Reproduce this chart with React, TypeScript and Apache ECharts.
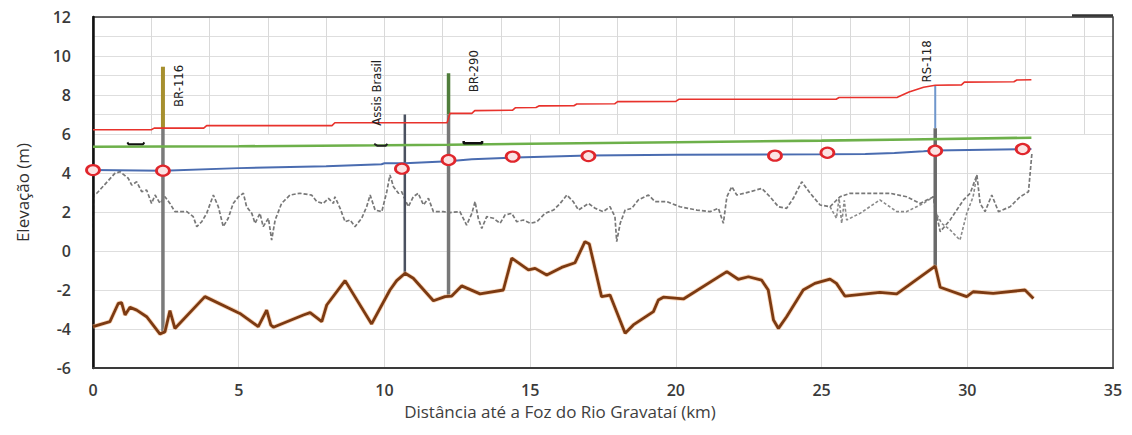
import React, { useEffect, useRef } from "react";
import * as echarts from "echarts";

// ---------- data (km, m) ----------
const xTicks = { min: 0, max: 35, step: 5 };
const yTicks = { min: -6, max: 12, step: 2 };

const redProfile: number[][] = [
  [0, 6.22], [2.0, 6.22], [2.1, 6.3], [3.8, 6.3], [3.9, 6.43], [8.2, 6.43], [8.3, 6.58],
  [12.15, 6.58], [12.25, 7.06], [13.0, 7.06], [13.1, 7.2], [14.4, 7.22], [14.5, 7.35],
  [15.2, 7.36], [15.3, 7.44], [16.5, 7.45], [16.6, 7.54], [17.9, 7.55], [18.0, 7.66],
  [20.0, 7.67], [20.1, 7.78], [25.5, 7.78], [25.6, 7.87], [27.6, 7.88], [28.0, 8.15],
  [28.5, 8.4], [28.9, 8.5], [29.8, 8.52], [29.9, 8.66], [31.6, 8.68], [31.7, 8.77], [32.2, 8.78],
];

const greenProfile: number[][] = [
  [0, 5.35], [5, 5.37], [10, 5.42], [12.2, 5.45], [15, 5.5], [20, 5.58], [25, 5.66], [28, 5.72], [32.2, 5.81],
];

const blueProfile: number[][] = [
  [0, 4.15], [2.4, 4.12], [5, 4.25], [8, 4.35], [9.9, 4.45], [10.0, 4.5], [10.7, 4.5], [12.2, 4.6],
  [13, 4.7], [14.5, 4.79], [17, 4.9], [20, 4.93], [25, 4.96], [26.5, 4.98], [27.5, 5.03],
  [28.5, 5.12], [28.9, 5.16], [32.2, 5.23],
];

const circlePoints: number[][] = [
  [0, 4.15], [2.4, 4.12], [10.6, 4.22], [12.2, 4.67], [14.4, 4.84], [17.0, 4.87],
  [23.4, 4.89], [25.2, 5.04], [28.9, 5.14], [31.9, 5.23],
];

const dashedA: number[][] = [
  [0, 1.2], [0.02, 2.9], [0.13, 2.96], [0.75, 3.98], [0.93, 4.07], [1.21, 3.73], [1.33, 3.38],
  [1.5, 3.55], [1.67, 3.04], [1.84, 3.13], [2.01, 2.44], [2.13, 2.87], [2.3, 2.44], [2.47, 2.78],
  [2.64, 2.44], [2.81, 2.02], [3.22, 2.02], [3.44, 1.76], [3.56, 1.25], [3.73, 1.5], [3.9, 1.93],
  [4.13, 2.87], [4.3, 2.27], [4.47, 1.25], [4.64, 1.68], [4.81, 2.44], [4.99, 2.78], [5.16, 2.96],
  [5.27, 2.27], [5.45, 1.93], [5.56, 1.42], [5.73, 1.93], [5.84, 1.25], [6.02, 1.68], [6.13, 0.56],
  [6.25, 1.59], [6.47, 2.44], [6.76, 2.87], [7.1, 2.96], [7.5, 2.87], [7.68, 2.53], [7.9, 2.44],
  [8.08, 2.7], [8.25, 2.44], [8.3, 2.78], [8.48, 2.19], [8.65, 1.5], [8.82, 1.59], [8.99, 1.25],
  [9.22, 1.68], [9.39, 2.27], [9.51, 2.87], [9.68, 2.1], [9.91, 2.02], [10.08, 3.04], [10.19, 3.9],
  [10.31, 3.3], [10.48, 2.96], [10.59, 3.04], [10.82, 2.27], [10.99, 2.78], [11.16, 2.96],
  [11.34, 2.36], [11.51, 2.7], [11.68, 2.02], [12.02, 2.02], [12.25, 1.97], [12.59, 2.02],
  [12.82, 1.33], [13.0, 1.93], [13.11, 2.53], [13.22, 1.68], [13.34, 1.16], [13.51, 1.76],
  [13.74, 1.68], [13.97, 1.42], [14.14, 1.85], [14.37, 1.93], [14.54, 1.5], [14.77, 1.59],
  [15.0, 1.42], [15.23, 1.5], [15.51, 1.93], [15.8, 2.1], [16.03, 2.44], [16.26, 2.87],
  [16.48, 2.53], [16.66, 2.1], [17.0, 2.44], [17.23, 2.19], [17.51, 2.02], [17.74, 2.27],
  [17.91, 1.76], [17.97, 0.48], [18.09, 1.42], [18.26, 2.1], [18.49, 2.19], [18.71, 2.62],
  [19.06, 2.87], [19.29, 2.53], [19.69, 2.53], [20.14, 2.27], [20.72, 2.1], [21.17, 2.02],
  [21.46, 2.19], [21.63, 1.42], [21.75, 2.78], [21.92, 3.3], [22.09, 2.87], [22.55, 3.04],
  [22.95, 3.21], [23.23, 2.78], [23.52, 2.27], [23.8, 2.19], [24.03, 2.7], [24.32, 3.55],
  [24.61, 2.96], [24.95, 2.36], [25.29, 2.27], [25.63, 2.78], [25.98, 2.96], [27.35, 2.96],
  [27.92, 2.78], [28.38, 2.44], [28.84, 2.78], [28.9, 2.2], [29.07, 0.99], [29.41, 1.59],
  [29.87, 2.62], [30.1, 2.96], [30.33, 3.9], [30.44, 2.44], [30.61, 2.02], [30.84, 2.87],
  [31.07, 2.02], [31.47, 2.27], [31.81, 2.78], [32.1, 3.04], [32.22, 5.05],
];

const dashedB: number[][] = [
  [25.29, 2.27], [25.51, 1.68], [25.6, 2.7], [25.69, 1.42], [25.78, 2.6], [25.86, 1.59],
  [26.32, 1.93], [27.0, 2.62], [27.58, 2.02], [27.92, 2.02], [28.49, 2.44], [28.84, 2.78],
  [28.9, 2.02], [29.12, 1.42], [29.4, 1.1], [29.75, 0.56], [29.98, 1.93], [30.2, 2.78], [30.33, 3.9],
];

const bedProfile: number[][] = [
  [0, -3.88], [0.58, -3.62], [0.87, -2.68], [0.98, -2.65], [1.1, -3.28], [1.27, -2.89], [1.5, -3.03],
  [1.84, -3.37], [2.3, -4.26], [2.47, -4.14], [2.64, -3.06], [2.81, -3.97], [3.84, -2.34],
  [5.04, -3.2], [5.67, -3.88], [5.96, -3.03], [6.1, -3.79], [6.19, -3.91], [7.22, -3.28],
  [7.45, -3.16], [7.85, -3.62], [8.02, -2.77], [8.65, -1.52], [9.56, -3.74], [10.19, -2.0],
  [10.42, -1.52], [10.71, -1.14], [10.99, -1.4], [11.68, -2.55], [12.08, -2.34], [12.31, -2.31],
  [12.65, -1.79], [13.28, -2.2], [14.08, -2.0], [14.37, -0.37], [14.94, -0.97], [15.17, -0.89],
  [15.57, -1.23], [16.08, -0.84], [16.54, -0.6], [16.88, 0.48], [17.03, 0.36], [17.45, -2.34],
  [17.74, -2.26], [18.26, -4.22], [18.54, -3.79], [19.23, -3.11], [19.4, -2.51], [19.57, -2.37],
  [20.26, -2.46], [21.75, -1.06], [22.14, -1.45], [22.49, -1.32], [22.94, -1.49], [23.17, -2.0],
  [23.35, -3.54], [23.52, -3.97], [23.8, -3.37], [24.37, -2.0], [24.77, -1.66], [25.29, -1.44],
  [25.51, -1.66], [25.8, -2.31], [27.0, -2.12], [27.58, -2.2], [28.9, -0.77], [29.07, -1.86],
  [29.98, -2.34], [30.2, -2.09], [30.89, -2.17], [31.98, -2.0], [32.27, -2.43],
];

// bridges / crossings
const poleNames = ["BR-116", "Assis Brasil", "BR-290", "RS-118"];
const poleKm = [2.4, 10.7, 12.2, 28.9];
const poleTop = [9.45, 7.0, 9.12, 8.5];
const poleJoin = [6.3, 7.0, 7.0, 6.3];
const poleBottom = [-4.25, -1.14, -2.31, -0.77];
const labelTop = [9.55, 9.8, 10.3, 10.8];

// small black marks near the green line
const markA: number[][] = [[1.18, 5.57], [1.22, 5.47], [1.72, 5.47], [1.76, 5.57]];
const markB: number[][] = [[9.65, 5.5], [9.75, 5.4], [10.05, 5.4], [10.1, 5.5]];
const markC: number[][] = [[12.72, 5.64], [12.72, 5.52], [13.35, 5.52], [13.35, 5.64]];

// ---------- styles ----------
const poleTopColors = ["#a68f2e", "#4b5160", "#4f7d3b", "#6f96cc"];
const poleLowColors = ["#7a7a7a", "#4b5160", "#787878", "#6a6a6a"];
const poleTopWidths = [4, 2.5, 3.5, 2];
const poleLowWidths = [3.5, 2.5, 3.5, 3.5];
const labelDx = [16, -28, 25, -9];

const FONT = "'Open Sans', 'DejaVu Sans', sans-serif";
const NARROW = "'Liberation Sans Narrow', 'DejaVu Sans Condensed', sans-serif";

export default function App() {
  const ref = useRef<HTMLDivElement>(null);

  useEffect(() => {
    document.body.style.margin = "0";
    const chart = echarts.init(ref.current!, null, { renderer: "svg" });

    const line = (data: number[][], color: string, width: number, z: number, extra: any = {}) => ({
      type: "line",
      xAxisIndex: 0,
      yAxisIndex: 0,
      data,
      symbol: "none",
      silent: true,
      z,
      lineStyle: { color, width, ...(extra.lineStyle || {}) },
      ...Object.fromEntries(Object.entries(extra).filter(([k]) => k !== "lineStyle")),
    });

    const poleSeries: any[] = [];
    poleKm.forEach((x, i) => {
      if (poleTop[i] > poleJoin[i]) {
        poleSeries.push(line([[x, poleTop[i]], [x, poleJoin[i]]], poleTopColors[i], poleTopWidths[i], 3));
      }
      poleSeries.push(line([[x, poleJoin[i]], [x, poleBottom[i]]], poleLowColors[i], poleLowWidths[i], 3));
    });

    const bgAxis = {
      axisLine: { show: false },
      axisTick: { show: false },
      axisLabel: { show: false },
    };

    const option: any = {
      animation: false,
      backgroundColor: "#ffffff",
      grid: [
        { left: 93, right: 19, top: 17, bottom: 67, show: true, borderColor: "#3c3c3c", borderWidth: 1.5, z: 3 },
        { left: 93, right: 19, top: 17, bottom: 301, z: 0 },
        { left: 93, right: 19, top: 134, bottom: 67, z: 0 },
      ],
      xAxis: [
        {
          gridIndex: 0, type: "value", min: xTicks.min, max: xTicks.max, interval: xTicks.step, z: 4,
          axisLine: { show: true, onZero: false, lineStyle: { color: "#3a3a3a", width: 2 } },
          axisTick: { show: false },
          splitLine: { show: false },
          axisLabel: { margin: 14, fontSize: 16, fontFamily: FONT, color: "#3a3a3a", fontWeight: 600 },
          name: "Distância até a Foz do Rio Gravataí (km)",
          nameLocation: "middle",
          nameGap: 33,
          nameTextStyle: { fontSize: 17, fontFamily: FONT, color: "#404040", padding: [0, 86, 0, 0] },
        },
        { gridIndex: 1, type: "value", min: 0, max: 35, interval: 2, ...bgAxis, splitLine: { show: true, lineStyle: { color: "#d9d9d9", width: 1 } } },
        { gridIndex: 2, type: "value", min: 0, max: 35, interval: 5, ...bgAxis, splitLine: { show: true, lineStyle: { color: "#d9d9d9", width: 1 } } },
      ],
      yAxis: [
        {
          gridIndex: 0, type: "value", min: yTicks.min, max: yTicks.max, interval: yTicks.step, z: 4,
          axisLine: { show: true, onZero: false, lineStyle: { color: "#111111", width: 2.5 } },
          axisTick: { show: false },
          splitLine: { show: false },
          axisLabel: { margin: 22, fontSize: 16, fontFamily: FONT, color: "#3a3a3a", fontWeight: 600 },
          name: "Elevação (m)",
          nameLocation: "middle",
          nameGap: 62,
          nameRotate: 90,
          nameTextStyle: { fontSize: 17, fontFamily: FONT, color: "#303030" },
        },
        { gridIndex: 1, type: "value", min: 6, max: 12, interval: 1, ...bgAxis, splitLine: { show: true, lineStyle: { color: "#dedede", width: 1 } } },
        { gridIndex: 2, type: "value", min: -6, max: 6, interval: 2, ...bgAxis, splitLine: { show: true, lineStyle: { color: "#dedede", width: 1 } } },
      ],
      series: [
        line(dashedB, "#8a8a8a", 1.6, 2, { lineStyle: { type: [3, 2] } }),
        line(dashedA, "#787878", 1.7, 2, { lineStyle: { type: [4, 2] } }),
        ...poleSeries,
        line(redProfile, "#e8322c", 1.6, 4),
        line(greenProfile, "#6db04a", 2.6, 4),
        line(blueProfile, "#4a6cb0", 2, 4),
        line(markA, "#111111", 2, 4),
        line(markB, "#222222", 2, 4),
        line(markC, "#111111", 2.5, 4),
        line(bedProfile, "#f6b886", 4.5, 4, { lineStyle: { opacity: 0.55 } }),
        line(bedProfile, "#7c3a12", 2.8, 5),
        {
          type: "scatter",
          xAxisIndex: 0,
          yAxisIndex: 0,
          data: circlePoints,
          symbol: "circle",
          symbolSize: [13, 10],
          silent: true,
          z: 6,
          itemStyle: { color: "#fbe3e3", borderColor: "#e0262c", borderWidth: 2.5, opacity: 1 },
        },
      ],
    };

    chart.setOption(option);

    const labels = poleNames.map((name, i) => {
      const p = chart.convertToPixel({ gridIndex: 0 }, [poleKm[i], labelTop[i]]) as number[];
      return {
        type: "text",
        x: p[0] + labelDx[i],
        y: p[1],
        rotation: Math.PI / 2,
        z: 10,
        silent: true,
        style: {
          text: name,
          fontSize: 13,
          fontFamily: NARROW,
          fill: "#222222",
          align: "right",
          verticalAlign: "middle",
        },
      };
    });
    const rightEdge = chart.convertToPixel({ gridIndex: 0 }, [xTicks.max, yTicks.max]) as number[];

    chart.setOption({
      graphic: [
        ...labels,
        {
          type: "line",
          z: 10,
          silent: true,
          shape: { x1: rightEdge[0] - 41, y1: rightEdge[1] - 1.5, x2: rightEdge[0], y2: rightEdge[1] - 1.5 },
          style: { stroke: "#333333", lineWidth: 2.5 },
        },
      ],
    });

    return () => chart.dispose();
  }, []);

  return (
    <div
      ref={ref}
      style={{ position: "absolute", left: 0, top: 0, width: 1132, height: 435 }}
    />
  );
}
